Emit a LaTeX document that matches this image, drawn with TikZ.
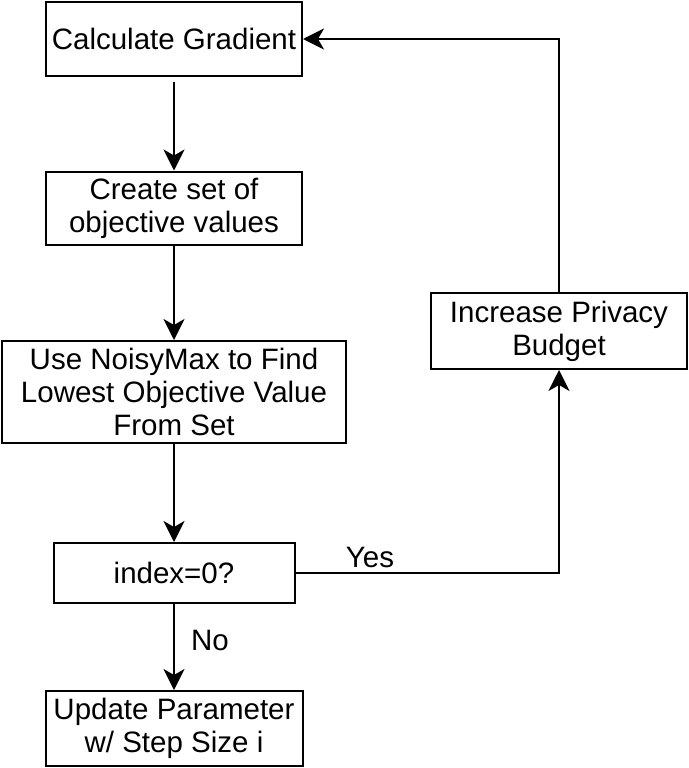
\documentclass[tikz,border=0pt]{standalone}
\usepackage{fontspec}
\setmainfont{Liberation Sans}
\usetikzlibrary{arrows.meta}
\begin{document}
\begin{tikzpicture}[x=1pt,y=-1pt,
  stepbox/.style={draw=black,line width=2pt,fill=white,inner sep=0pt,align=center,
    font=\fontsize{29.5}{33}\selectfont},
  conn/.style={line width=2pt,-{Stealth[length=21pt,width=21pt,inset=6pt]}},
  lbl/.style={font=\fontsize{29.5}{33}\selectfont,inner sep=0pt}]
\useasboundingbox (0,0) rectangle (688,768);
\node[stepbox,minimum width=256pt,minimum height=74pt] (calc) at (174,39) {Calculate Gradient};
\node[stepbox,minimum width=256pt,minimum height=73pt] (create) at (174,208) {Create set of\\objective values};
\node[stepbox,minimum width=344pt,minimum height=102pt] (noisy) at (174,392) {Use NoisyMax to Find\\Lowest Objective Value\\From Set};
\node[stepbox,minimum width=241pt,minimum height=60pt] (idx) at (174,573) {index=0?};
\node[stepbox,minimum width=257pt,minimum height=75pt] (upd) at (174,728.5) {Update Parameter\\w/ Step Size i};
\node[stepbox,minimum width=256pt,minimum height=76pt] (budget) at (559,331) {Increase Privacy\\Budget};
\coordinate (tr) at (559,39);
\coordinate (br) at (559,573);
\draw[conn,shorten <=5pt] (calc.south) -- (create.north);
\draw[conn] (create.south) -- (noisy.north);
\draw[conn] (noisy.south) -- (idx.north);
\draw[conn] (idx.south) -- node[lbl,right=16pt,pos=0.42] (no) {No} (upd.north);
\draw[conn] (idx.east) -- (br) -- (budget.south);
\draw[conn] (budget.north) -- (tr) -- (calc.east);
\node[lbl] (yes) at (370,557) {Yes};
\end{tikzpicture}
\end{document}
